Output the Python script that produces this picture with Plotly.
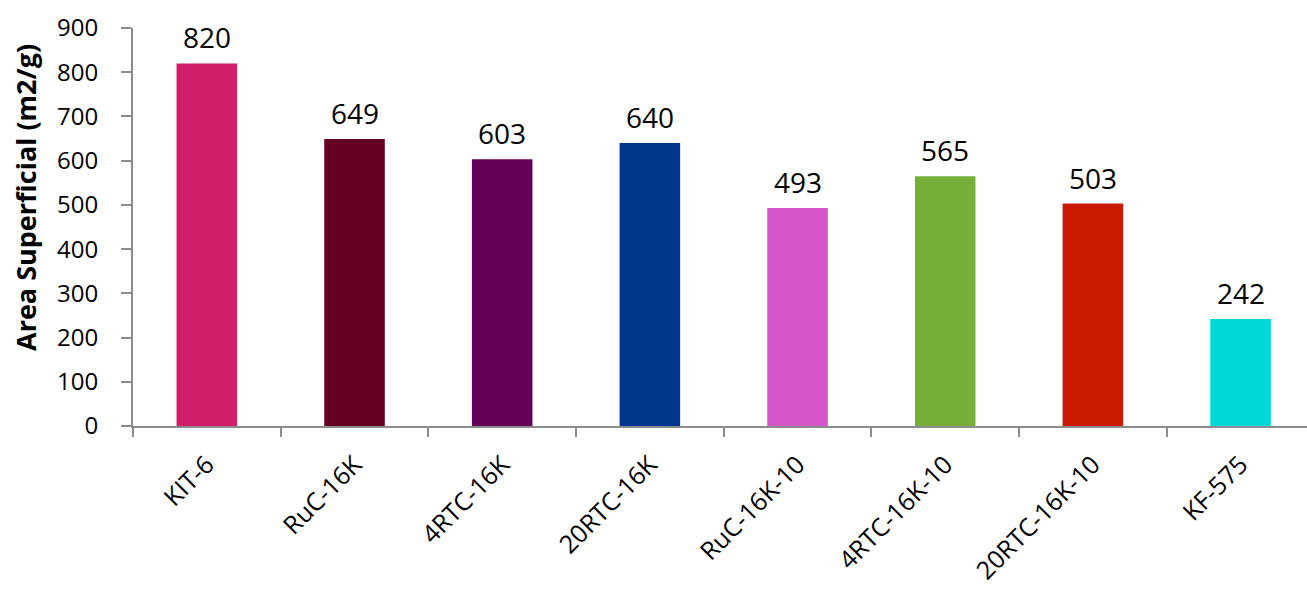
import plotly.graph_objects as go

# Surface area of each sample
categories = ["KIT-6", "RuC-16K", "4RTC-16K", "20RTC-16K",
              "RuC-16K-10", "4RTC-16K-10", "20RTC-16K-10", "KF-575"]
area = [820, 649, 603, 640, 493, 565, 503, 242]
bar_colors = ["#D21F6C", "#640024", "#640056", "#00378E",
              "#D455C8", "#76AE38", "#CC1A00", "#00D8D8"]

FONT = "Open Sans"
AXIS_GREY = "#8C8C8C"

fig = go.Figure()
fig.add_trace(go.Bar(
    x=categories,
    y=area,
    marker=dict(color=bar_colors, line=dict(width=0)),
    width=0.41,
    hoverinfo="x+y",
))

# value labels above the bars
for cat, val in zip(categories, area):
    fig.add_annotation(
        x=cat, y=val, text=str(val), showarrow=False,
        yanchor="bottom", yshift=5,
        font=dict(family=FONT, size=28, color="#000000"),
    )

# y-axis title
fig.add_annotation(
    xref="paper", yref="paper", x=-0.0911, y=0.573,
    text="<b>Area Superficial (m2/g)</b>", textangle=-90,
    showarrow=False, xanchor="center", yanchor="middle",
    font=dict(family=FONT, size=27, color="#000000"),
)

fig.update_layout(
    width=1307, height=594,
    margin=dict(l=133, r=0, t=28, b=168),
    paper_bgcolor="white", plot_bgcolor="white",
    showlegend=False,
    font=dict(family=FONT, color="#000000"),
)
fig.update_xaxes(
    range=[-0.5, 7.45], automargin=False,
    showline=True, linecolor=AXIS_GREY, linewidth=2,
    ticks="outside", tickson="boundaries", ticklen=9,
    tickcolor=AXIS_GREY, tickwidth=2,
    tickangle=-45, ticklabelstandoff=12,
    tickfont=dict(family=FONT, size=25, color="#000000"),
    showgrid=False, zeroline=False,
)
fig.update_yaxes(
    range=[0, 900], dtick=100, automargin=False,
    showline=True, linecolor=AXIS_GREY, linewidth=2,
    ticks="outside", ticklen=10, tickcolor=AXIS_GREY, tickwidth=2,
    ticklabelstandoff=18,
    tickfont=dict(family=FONT, size=24, color="#000000"),
    showgrid=False, zeroline=False,
)

fig.write_html("out.html")
